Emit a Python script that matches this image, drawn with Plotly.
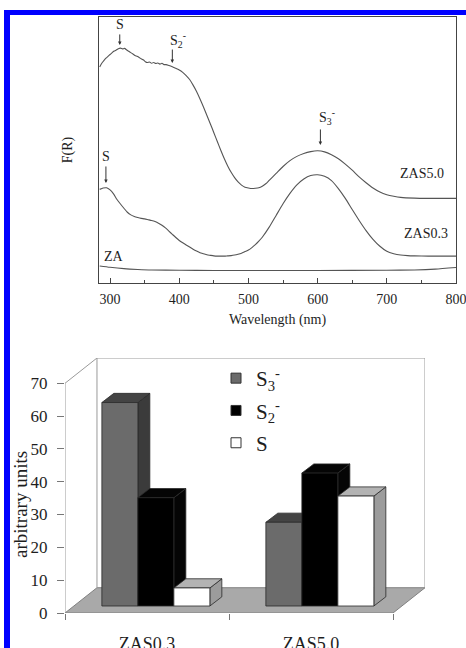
import plotly.graph_objects as go

# ---------------- diffuse reflectance spectra, F(R) in arbitrary units ----------------
wl_zas50 = [285, 288, 291, 294, 297, 300, 303, 306, 309, 312, 315, 318, 321, 324, 327,
            330, 333, 336, 339, 342, 345, 348, 351, 354, 357, 360, 363, 366, 369, 372,
            375, 378, 381, 384, 387, 390, 395, 400, 405, 410, 415, 420, 425, 430, 435,
            440, 445, 450, 455, 460, 465, 470, 475, 480, 485, 490, 495, 500, 505, 510,
            515, 520, 525, 530, 540, 550, 560, 570, 580, 590, 600, 610, 620, 630, 640,
            650, 660, 670, 680, 690, 700, 710, 720, 740, 760, 780, 800]
fr_zas50 = [0.812, 0.826, 0.836, 0.845, 0.852, 0.859, 0.866, 0.872, 0.876, 0.881, 0.883,
            0.880, 0.882, 0.876, 0.871, 0.866, 0.861, 0.855, 0.852, 0.848, 0.843, 0.839,
            0.832, 0.829, 0.831, 0.826, 0.829, 0.825, 0.827, 0.823, 0.826, 0.821, 0.821,
            0.819, 0.816, 0.813, 0.807, 0.801, 0.792, 0.780, 0.765, 0.744, 0.720, 0.692,
            0.662, 0.630, 0.598, 0.565, 0.532, 0.499, 0.468, 0.440, 0.416, 0.396, 0.380,
            0.368, 0.360, 0.357, 0.355, 0.356, 0.358, 0.364, 0.373, 0.386, 0.412, 0.438,
            0.460, 0.476, 0.487, 0.494, 0.497, 0.493, 0.482, 0.467, 0.447, 0.424, 0.399,
            0.377, 0.357, 0.342, 0.332, 0.326, 0.322, 0.319, 0.318, 0.318, 0.318]

wl_zas03 = [285, 290, 295, 300, 305, 310, 315, 320, 325, 330, 335, 340, 345, 350, 355,
            360, 365, 370, 375, 380, 385, 390, 395, 400, 405, 410, 415, 420, 425, 430,
            435, 440, 445, 450, 455, 460, 465, 470, 475, 480, 485, 490, 495, 500, 505,
            510, 515, 520, 530, 540, 550, 560, 570, 580, 590, 600, 610, 620, 630, 640,
            650, 660, 670, 680, 690, 700, 710, 720, 730, 740, 760, 780, 800]
fr_zas03 = [0.352, 0.357, 0.358, 0.350, 0.335, 0.314, 0.297, 0.281, 0.266, 0.256, 0.250,
            0.246, 0.243, 0.241, 0.238, 0.235, 0.231, 0.225, 0.217, 0.207, 0.195, 0.183,
            0.171, 0.160, 0.151, 0.143, 0.135, 0.127, 0.120, 0.114, 0.110, 0.106, 0.104,
            0.102, 0.101, 0.101, 0.101, 0.102, 0.103, 0.105, 0.108, 0.112, 0.118, 0.124,
            0.133, 0.144, 0.157, 0.172, 0.210, 0.254, 0.298, 0.337, 0.369, 0.391, 0.404,
            0.407, 0.401, 0.385, 0.355, 0.318, 0.276, 0.235, 0.197, 0.164, 0.138, 0.119,
            0.110, 0.105, 0.103, 0.102, 0.101, 0.101, 0.101]

wl_za = [285, 300, 320, 340, 360, 400, 450, 500, 600, 700, 740, 770, 800]
fr_za = [0.064, 0.059, 0.054, 0.051, 0.049, 0.048, 0.047, 0.047, 0.047, 0.048, 0.049,
         0.052, 0.058]

spectrum_ticks = [300, 400, 500, 600, 700, 800]

# ---------------- band intensities (arbitrary units) ----------------
samples = ["ZAS0.3", "ZAS5.0"]
species = ["S<sub>3</sub><sup>-</sup>", "S<sub>2</sub><sup>-</sup>", "S"]
intensity_s3 = [62.0, 25.5]
intensity_s2 = [33.0, 40.5]
intensity_s = [5.5, 33.5]
intensity_ticks = [0, 10, 20, 30, 40, 50, 60, 70]

W, H = 466, 648
FONT = "Liberation Serif"
INK = "#1e1e1e"


def px_x(p):
    return p / W


def px_y(p):
    return 1 - p / H


fig = go.Figure()

# ---- spectra ----
curve_style = dict(color="#555555", width=1.1)
for wl, fr, name in [(wl_zas50, fr_zas50, "ZAS5.0"),
                     (wl_zas03, fr_zas03, "ZAS0.3"),
                     (wl_za, fr_za, "ZA")]:
    fig.add_trace(go.Scatter(x=wl, y=fr, mode="lines",
                             line=dict(shape="spline", smoothing=0.6, **curve_style),
                             name=name, showlegend=False, hoverinfo="skip",
                             xaxis="x", yaxis="y"))

# ---- 3D-style column chart ----
depth_dx, depth_dy = 0.195, 7.7      # floor / wall depth in (category, value) units
plane_dx, plane_dy = 0.054, 2.13     # front plane of the columns
bar_dx, bar_dy = 0.073, 2.8          # column depth
bar_w = 0.2195
bar_gap = (1 - 3 * bar_w) / 2

wall = dict(color="#9a9a9a", width=1)
x_end = len(samples)

# floor
fig.add_trace(go.Scatter(
    x=[0, x_end, x_end + depth_dx, depth_dx, 0],
    y=[0, 0, depth_dy, depth_dy, 0],
    fill="toself", fillcolor="#a9a9a9", mode="lines",
    line=dict(color="#808080", width=1), showlegend=False, hoverinfo="skip",
    xaxis="x2", yaxis="y2"))
# back and side walls
top_v = intensity_ticks[-1]
fig.add_trace(go.Scatter(
    x=[0, 0, depth_dx, x_end + depth_dx, x_end + depth_dx],
    y=[0, top_v, top_v + depth_dy, top_v + depth_dy, depth_dy],
    mode="lines", line=wall, showlegend=False, hoverinfo="skip",
    xaxis="x2", yaxis="y2"))
fig.add_trace(go.Scatter(
    x=[depth_dx, depth_dx], y=[depth_dy, top_v + depth_dy],
    mode="lines", line=wall, showlegend=False, hoverinfo="skip",
    xaxis="x2", yaxis="y2"))

face_colors = [
    ("#6b6b6b", "#444444", "#3b3b3b"),   # S3-: front, top, side
    ("#000000", "#050505", "#050505"),   # S2-
    ("#ffffff", "#b3b3b3", "#9c9c9c"),   # S
]
edge = dict(color="#2a2a2a", width=0.8)
series = [intensity_s3, intensity_s2, intensity_s]

for i in range(len(samples)):
    for j, vals in enumerate(series):
        v = vals[i]
        x0 = i + plane_dx + bar_gap + j * bar_w
        x1 = x0 + bar_w
        y0 = plane_dy
        y1 = plane_dy + v
        front_c, top_c, side_c = face_colors[j]
        faces = [
            ([x1, x1 + bar_dx, x1 + bar_dx, x1, x1],
             [y0, y0 + bar_dy, y1 + bar_dy, y1, y0], side_c),
            ([x0, x1, x1 + bar_dx, x0 + bar_dx, x0],
             [y1, y1, y1 + bar_dy, y1 + bar_dy, y1], top_c),
            ([x0, x1, x1, x0, x0],
             [y0, y0, y1, y1, y0], front_c),
        ]
        for fx, fy, c in faces:
            fig.add_trace(go.Scatter(x=fx, y=fy, fill="toself", fillcolor=c, mode="lines",
                                     line=edge, showlegend=False, hoverinfo="skip",
                                     xaxis="x2", yaxis="y2"))

# legend swatches
for j, name in enumerate(species):
    fig.add_trace(go.Scatter(
        x=[None], y=[None], mode="markers", name=name, legendgroup=f"g{j}",
        marker=dict(symbol="square", size=10, color=face_colors[j][0],
                    line=dict(color="#333333", width=1)),
        xaxis="x2", yaxis="y2"))

# ---- annotations on the spectra ----
ann = []
arrow_common = dict(xref="x", yref="y", text="", showarrow=True, arrowhead=2,
                    arrowsize=0.7, arrowwidth=1, arrowcolor="#333333", ax=0, axref="pixel",
                    ayref="pixel")
for xh, yh, ay in [(314, 0.895, -12), (390, 0.827, -15), (604, 0.519, -17), (294, 0.376, -18)]:
    ann.append(dict(x=xh, y=yh, ay=ay, **arrow_common))

txt = dict(xref="x", yref="y", showarrow=False, font=dict(family=FONT, size=14, color=INK))
ann += [
    dict(x=314, y=0.970, text="S", xanchor="center", yanchor="middle", **txt),
    dict(x=384, y=0.912, text="S<sub>2</sub><sup>-</sup>", xanchor="left", yanchor="middle", **txt),
    dict(x=598.6, y=0.623, text="S<sub>3</sub><sup>-</sup>", xanchor="left", yanchor="middle", **txt),
    dict(x=294, y=0.474, text="S", xanchor="center", yanchor="middle", **txt),
    dict(x=750.5, y=0.410, text="ZAS5.0", xanchor="center", yanchor="middle", **txt),
    dict(x=756, y=0.186, text="ZAS0.3", xanchor="center", yanchor="middle", **txt),
    dict(x=306, y=0.098, text="ZA", xanchor="center", yanchor="middle", **txt),
]
ann.append(dict(xref="paper", yref="paper", x=px_x(20), y=px_y(505), text="arbitrary units",
                textangle=-90, showarrow=False, xanchor="center", yanchor="middle",
                font=dict(family=FONT, size=19, color=INK)))

frame = "#444444"
fig.update_layout(
    width=W, height=H, margin=dict(l=0, r=0, t=0, b=0, autoexpand=False),
    paper_bgcolor="white", plot_bgcolor="rgba(0,0,0,0)",
    font=dict(family=FONT, color=INK),
    xaxis=dict(domain=[px_x(99), px_x(456)], range=[284, 800], anchor="y", automargin=False,
               tickvals=spectrum_ticks, ticks="inside", ticklen=5, tickcolor=frame,
               minor=dict(dtick=50, tick0=300, ticks="inside", ticklen=3, tickcolor=frame),
               showline=True, mirror=True, linecolor=frame, linewidth=1,
               showgrid=False, zeroline=False, tickfont=dict(family=FONT, size=14),
               ticklabelstandoff=3, ticklabeloverflow="allow",
               title=dict(text="Wavelength (nm)", font=dict(family=FONT, size=14), standoff=8)),
    yaxis=dict(domain=[px_y(283), px_y(17)], range=[0, 1], anchor="x", automargin=False,
               showticklabels=False, ticks="", showline=True, mirror=True,
               linecolor=frame, linewidth=1, showgrid=False, zeroline=False,
               title=dict(text="F(R)", font=dict(family=FONT, size=14), standoff=22)),
    xaxis2=dict(domain=[px_x(65), px_x(425)], range=[0, x_end + depth_dx], anchor="y2",
                automargin=False,
                tickvals=[0.5, 1.5], ticktext=samples, ticks="",
                minor=dict(tick0=0, dtick=1, ticks="outside", ticklen=6, tickcolor="#777777"),
                showline=False, showgrid=False, zeroline=False,
                tickfont=dict(family=FONT, size=18), ticklabelstandoff=18,
                ticklabeloverflow="allow"),
    yaxis2=dict(domain=[px_y(613), px_y(358)], range=[0, top_v + depth_dy], anchor="x2",
                automargin=False,
                tickvals=intensity_ticks, ticks="outside", ticklen=7, tickcolor="#777777",
                showline=False, showgrid=False, zeroline=False,
                tickfont=dict(family=FONT, size=17), ticklabelstandoff=6),
    showlegend=True,
    legend=dict(x=px_x(216), y=px_y(358), xanchor="left", yanchor="top",
                bgcolor="rgba(0,0,0,0)", font=dict(size=21, family=FONT, color=INK),
                tracegroupgap=2, itemclick=False),
    annotations=ann,
    shapes=[
        dict(type="rect", xref="paper", yref="paper", x0=px_x(4), x1=1.0,
             y0=px_y(15), y1=px_y(10), fillcolor="#0000ff", line=dict(width=0), layer="above"),
        dict(type="rect", xref="paper", yref="paper", x0=px_x(4), x1=px_x(10),
             y0=0, y1=px_y(10), fillcolor="#0000ff", line=dict(width=0), layer="above"),
    ],
)

fig.write_html("out.html")
